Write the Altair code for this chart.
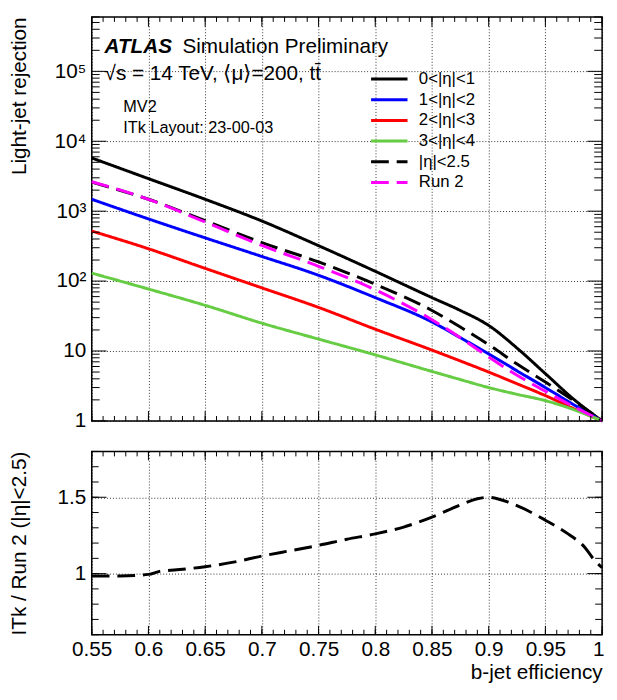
import altair as alt
import pandas as pd

FONT = "Liberation Sans"

# ---------------- data ----------------
eff = [0.55, 0.6, 0.65, 0.7, 0.75, 0.8, 0.85, 0.875, 0.9, 0.925, 0.95, 0.975, 1.0]
rej_eta01 = [5770, 2920, 1480, 723, 321, 138, 58, 38, 23.2, 11, 4.74, 2.04, 1]
rej_eta12 = [1480, 775, 415, 225, 121, 58, 26, 15.5, 9.1, 5.2, 3.0, 1.7, 1]
rej_eta23 = [520, 290, 152, 80, 42, 20.5, 10.3, 7.2, 5.0, 3.4, 2.3, 1.5, 1]
rej_eta34 = [130, 77, 45, 25, 14.8, 8.8, 5.1, 3.9, 3.0, 2.4, 1.95, 1.45, 1]
rej_eta25 = [2600, 1480, 730, 355, 188, 90, 38, 22, 12.3, 6.5, 3.6, 1.95, 1]
rej_run2 = [2640, 1480, 700, 323, 163, 75, 28, 15.5, 8.2, 4.5, 2.65, 1.6, 1]

series_names = ["0<|η|<1", "1<|η|<2", "2<|η|<3", "3<|η|<4", "|η|<2.5", "Run 2"]
series_colors = ["#000000", "#0000ff", "#ff0000", "#66cc44", "#000000", "#ff00ff"]
series_dashes = [[1, 0], [1, 0], [1, 0], [1, 0], [18, 8], [18, 8]]

ratio_eff = [0.55, 0.575, 0.6, 0.61, 0.625, 0.65, 0.675, 0.7, 0.725, 0.75, 0.775,
             0.8, 0.825, 0.85, 0.875, 0.89, 0.9, 0.92, 0.95, 0.97, 0.985, 0.993, 1.0]
ratio_val = [0.985, 0.985, 0.995, 1.015, 1.025, 1.045, 1.075, 1.115, 1.15, 1.185, 1.225,
             1.26, 1.305, 1.37, 1.45, 1.49, 1.50, 1.46, 1.35, 1.26, 1.17, 1.09, 1.04]

x_major = [0.55, 0.6, 0.65, 0.7, 0.75, 0.8, 0.85, 0.9, 0.95, 1.0]
x_minor = [round(0.55 + 0.01 * i, 2) for i in range(46)]
y_top_major = [1, 10, 100, 1000, 10000, 100000]
y_top_minor = [m * 10 ** k for k in range(6) for m in range(2, 10) if m * 10 ** k <= 6e5]
y_bot_major = [1.0, 1.5]
y_bot_minor = [round(0.6 + 0.1 * i, 1) for i in range(13)]

text_atlas = "ATLAS"
text_sim = "Simulation Preliminary"
text_energy = "√s = 14 TeV, ⟨μ⟩=200, tt̄"
text_mv2 = "MV2"
text_itk = "ITk Layout: 23-00-03"

# ---------------- tables ----------------
all_series = [rej_eta01, rej_eta12, rej_eta23, rej_eta34, rej_eta25, rej_run2]
rows = []
for name, vals in zip(series_names, all_series):
    for e, v in zip(eff, vals):
        rows.append({"eff": e, "rej": v, "series": name})
df_top = pd.DataFrame(rows)
df_bot = pd.DataFrame({"eff": ratio_eff, "ratio": ratio_val})

W = 518
H_TOP = 410
H_BOT = 186

x_scale = alt.Scale(domain=[0.55, 1.0], nice=False, zero=False)
y_top_scale = alt.Scale(type="log", domain=[1, 6e5], nice=False)
y_bot_scale = alt.Scale(domain=[0.6, 1.8], nice=False, zero=False)

top_labels = ("datum.value == 1 ? '1' : datum.value == 10 ? '10' : datum.value == 100 ? '10²' : "
              "datum.value == 1000 ? '10³' : datum.value == 10000 ? '10⁴' : '10⁵'")

# axis definitions (shared by every layer of a panel so that they merge cleanly)
top_x_axis = alt.Axis(orient="bottom", values=x_major, labels=False, ticks=False,
                      domain=False, grid=True, title=None)
top_y_axis = alt.Axis(orient="left", values=y_top_major, labelExpr=top_labels,
                      ticks=False, domain=False, grid=True, labelPadding=6,
                      title="Light-jet rejection", titleX=-67, titleY=80, titleAlign="center",
                      titleAngle=270, titleBaseline="alphabetic")
bot_x_axis = alt.Axis(orient="bottom", values=x_major, ticks=False, domain=False, grid=True,
                      labelExpr="datum.value == 1 ? '1' : format(datum.value, '.2~f')",
                      labelPadding=4, labelFlush=False,
                      labelOffset={"condition": {"test": "datum.value >= 1", "value": -4}, "value": 0},
                      title="b-jet efficiency", titleAnchor="end", titleAlign="right",
                      titleBaseline="alphabetic", titleY=44)
bot_y_axis = alt.Axis(orient="left", values=y_bot_major, labelExpr="format(datum.value, '~g')",
                      ticks=False, domain=False, grid=True, labelPadding=6,
                      title="ITk / Run 2 (|η|<2.5)", titleX=-67, titleY=93, titleAlign="center",
                      titleAngle=270, titleBaseline="alphabetic")


def x_ticks(values, length, height, axis):
    d = pd.DataFrame({"v": values})
    base = alt.Chart(d).mark_rule(color="black", strokeWidth=1)
    enc_x = alt.X("v:Q", scale=x_scale, axis=axis)
    return [
        base.encode(x=enc_x, y=alt.value(height), y2=alt.value(height - length)),
        base.encode(x=enc_x, y=alt.value(0), y2=alt.value(length)),
    ]


def y_ticks(values, scale, length, axis):
    d = pd.DataFrame({"v": values})
    base = alt.Chart(d).mark_rule(color="black", strokeWidth=1)
    enc_y = alt.Y("v:Q", scale=scale, axis=axis)
    return [
        base.encode(y=enc_y, x=alt.value(0), x2=alt.value(length)),
        base.encode(y=enc_y, x=alt.value(W), x2=alt.value(W - length)),
    ]


def text_layer(txt, x, y, size, weight="normal", style="normal"):
    return alt.Chart(pd.DataFrame({"t": [txt]})).mark_text(
        align="left", baseline="alphabetic", font=FONT, fontSize=size,
        fontWeight=weight, fontStyle=style, color="black"
    ).encode(x=alt.value(x), y=alt.value(y), text="t:N")


leg = alt.Legend(orient="none", legendX=291, legendY=52, title=None,
                 symbolType="M-2,0L2,0", symbolSize=342, symbolStrokeWidth=3,
                 labelFont=FONT, labelFontSize=17, labelOffset=19, labelColor="black",
                 rowPadding=2, padding=0, labelLimit=200)

lines = alt.Chart(df_top).mark_line(strokeWidth=3, interpolate="monotone").encode(
    x=alt.X("eff:Q", scale=x_scale, axis=top_x_axis),
    y=alt.Y("rej:Q", scale=y_top_scale, axis=top_y_axis),
    color=alt.Color("series:N", scale=alt.Scale(domain=series_names, range=series_colors), legend=leg),
    strokeDash=alt.StrokeDash("series:N", scale=alt.Scale(domain=series_names, range=series_dashes), legend=leg),
)

top = alt.layer(
    lines,
    *x_ticks(x_major, 10, H_TOP, top_x_axis),
    *x_ticks(x_minor, 5, H_TOP, top_x_axis),
    *y_ticks(y_top_major, y_top_scale, 15, top_y_axis),
    *y_ticks(y_top_minor, y_top_scale, 8, top_y_axis),
    text_layer(text_atlas, 13, 37, 21, weight="bold", style="italic"),
    text_layer(text_sim, 92, 37, 21),
    text_layer(text_energy, 13, 64, 21),
    text_layer(text_mv2, 32, 96, 16.5),
    text_layer(text_itk, 32, 118, 16.5),
).properties(width=W, height=H_TOP)

ratio_line = alt.Chart(df_bot).mark_line(strokeWidth=3, strokeDash=[18, 8], color="black",
                                         interpolate="monotone").encode(
    x=alt.X("eff:Q", scale=x_scale, axis=bot_x_axis),
    y=alt.Y("ratio:Q", scale=y_bot_scale, axis=bot_y_axis),
)

bot = alt.layer(
    ratio_line,
    *x_ticks(x_major, 9, H_BOT, bot_x_axis),
    *x_ticks(x_minor, 5, H_BOT, bot_x_axis),
    *y_ticks(y_bot_major, y_bot_scale, 15, bot_y_axis),
    *y_ticks(y_bot_minor, y_bot_scale, 7, bot_y_axis),
).properties(width=W, height=H_BOT)

chart = alt.vconcat(top, bot, spacing=31, bounds="flush").properties(
    padding={"left": 0, "top": 2, "right": 0, "bottom": 0}
).configure_view(
    stroke="black", strokeWidth=1.5
).configure_axis(
    labelFont=FONT, labelFontSize=21, labelColor="black",
    titleFont=FONT, titleFontSize=21, titleFontWeight="normal", titleColor="black",
    gridColor="#000000", gridDash=[1, 2], gridWidth=1, gridOpacity=0.8,
)

chart.save("out.html", embed_options={"renderer": "svg", "actions": False})
